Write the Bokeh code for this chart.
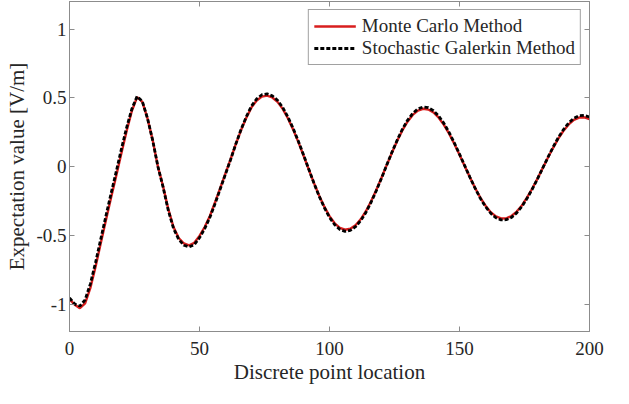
from bokeh.plotting import figure
from bokeh.models import (ColumnDataSource, Range1d, LinearAxis, FixedTicker, Legend,
                          LegendItem, CustomLabelingPolicy)
from bokeh.embed import file_html
from bokeh.resources import INLINE

# Discrete point locations
x_points = list(range(0, 201, 2))

# Monte Carlo Method expectation values [V/m]
mc_values = [
    -0.965, -1.005, -1.03, -0.995, -0.885, -0.73, -0.56, -0.39, -0.225, -0.065,
    0.10, 0.26, 0.405, 0.505, 0.47, 0.35, 0.19, 0.0, -0.145, -0.31,
    -0.44, -0.52, -0.56, -0.573, -0.555, -0.505, -0.44, -0.36, -0.26, -0.155,
    -0.05, 0.055, 0.165, 0.265, 0.355, 0.43, 0.48, 0.508, 0.515, 0.502,
    0.47, 0.419, 0.351, 0.27, 0.179, 0.08, -0.02, -0.119, -0.211, -0.292,
    -0.361, -0.413, -0.446, -0.46, -0.453, -0.427, -0.384, -0.325, -0.253, -0.171,
    -0.082, 0.01, 0.1, 0.185, 0.262, 0.326, 0.375, 0.406, 0.42, 0.414,
    0.393, 0.355, 0.303, 0.239, 0.165, 0.086, 0.004, -0.078, -0.156, -0.226,
    -0.285, -0.332, -0.363, -0.378, -0.377, -0.36, -0.328, -0.283, -0.225, -0.16,
    -0.088, -0.012, 0.064, 0.136, 0.203, 0.26, 0.306, 0.339, 0.356, 0.358,
    0.345,
]

# Stochastic Galerkin Method expectation values [V/m]
sg_values = [
    -0.955, -1.0, -1.015, -0.97, -0.855, -0.70, -0.53, -0.36, -0.195, -0.035,
    0.13, 0.285, 0.42, 0.51, 0.475, 0.35, 0.19, 0.0, -0.15, -0.32,
    -0.45, -0.53, -0.573, -0.585, -0.568, -0.518, -0.452, -0.37, -0.27, -0.162,
    -0.055, 0.052, 0.165, 0.27, 0.362, 0.44, 0.492, 0.522, 0.528, 0.514,
    0.482, 0.43, 0.36, 0.278, 0.185, 0.085, -0.018, -0.12, -0.215, -0.298,
    -0.37, -0.423, -0.458, -0.472, -0.465, -0.438, -0.394, -0.334, -0.26, -0.176,
    -0.085, 0.01, 0.103, 0.19, 0.27, 0.336, 0.386, 0.419, 0.433, 0.428,
    0.406, 0.367, 0.314, 0.248, 0.172, 0.09, 0.006, -0.078, -0.158, -0.231,
    -0.292, -0.34, -0.373, -0.388, -0.387, -0.37, -0.337, -0.291, -0.231, -0.164,
    -0.09, -0.012, 0.066, 0.141, 0.21, 0.269, 0.317, 0.351, 0.369, 0.372,
    0.36,
]

x_ticks = [0, 50, 100, 150, 200]
y_ticks = [-1, -0.5, 0, 0.5, 1]
y_tick_labels = {-1: "-1", -0.5: "-0.5", 0: "0", 0.5: "0.5", 1: "1"}

FONT = "Liberation Serif"
AXIS_COL = "#8c8c8c"
TEXT_COL = "#262626"

src = ColumnDataSource(data=dict(x=x_points, mc=mc_values, sg=sg_values))

p = figure(
    width=613, height=388,
    min_border_left=69, min_border_right=24, min_border_top=1, min_border_bottom=57,
    x_range=Range1d(0, 200), y_range=Range1d(-1.2, 1.2),
    output_backend="svg", toolbar_location=None,
    background_fill_color="white", border_fill_color="white",
)
p.grid.visible = False
p.outline_line_color = AXIS_COL
p.outline_line_width = 1

def style_axis(ax):
    ax.axis_line_color = AXIS_COL
    ax.major_tick_line_color = AXIS_COL
    ax.major_tick_in = 5
    ax.major_tick_out = 0
    ax.minor_tick_line_color = None
    ax.major_label_text_font = FONT
    ax.major_label_text_color = TEXT_COL
    ax.major_label_text_font_size = "19px"
    ax.axis_label_text_font = FONT
    ax.axis_label_text_color = TEXT_COL
    ax.axis_label_text_font_size = "21px"
    ax.axis_label_text_font_style = "normal"

p.xaxis.ticker = FixedTicker(ticks=x_ticks)
p.yaxis.ticker = FixedTicker(ticks=y_ticks)
p.yaxis.major_label_overrides = y_tick_labels
style_axis(p.xaxis[0])
style_axis(p.yaxis[0])
p.xaxis.axis_label = "Discrete point location"
p.yaxis.axis_label = "Expectation value [V/m]"
p.xaxis.major_label_standoff = 10
p.xaxis.axis_label_standoff = 2
p.yaxis.major_label_standoff = 3
p.yaxis.axis_label_standoff = 4

# mirrored box ticks without labels
top_ax = LinearAxis(ticker=FixedTicker(ticks=x_ticks))
style_axis(top_ax)
top_ax.major_label_text_font_size = "0px"
top_ax.major_label_standoff = 0
top_ax.major_label_policy = CustomLabelingPolicy(code="for (const i of indices) { indices.unset(i) }\nreturn indices")
p.add_layout(top_ax, "above")
right_ax = LinearAxis(ticker=FixedTicker(ticks=y_ticks))
style_axis(right_ax)
right_ax.major_label_text_font_size = "0px"
right_ax.major_label_standoff = 0
right_ax.major_label_policy = CustomLabelingPolicy(code="for (const i of indices) { indices.unset(i) }\nreturn indices")
p.add_layout(right_ax, "right")

r_mc = p.line("x", "mc", source=src, line_color="#d81e1e", line_width=2.4)
r_sg = p.line("x", "sg", source=src, line_color="black", line_width=2.8, line_dash="4 2")

legend = Legend(items=[
    LegendItem(label="Monte Carlo Method", renderers=[r_mc]),
    LegendItem(label="Stochastic Galerkin Method", renderers=[r_sg]),
], location="top_right")
legend.margin = 8
legend.padding = 5
legend.spacing = 0
legend.glyph_width = 42
legend.glyph_height = 20
legend.label_height = 20
legend.label_standoff = 6
legend.label_text_font = FONT
legend.label_text_font_size = "19px"
legend.label_text_color = TEXT_COL
legend.border_line_color = "#444444"
legend.border_line_width = 1
legend.background_fill_color = "white"
legend.background_fill_alpha = 1
p.add_layout(legend, "center")

open("out.html", "w").write(file_html(p, INLINE))
